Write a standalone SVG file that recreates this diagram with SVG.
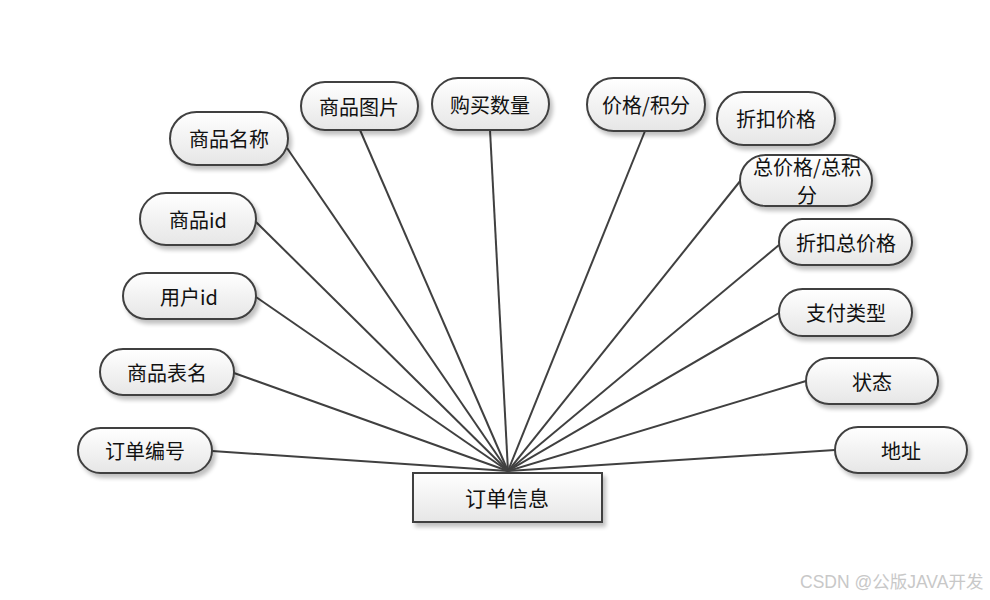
<svg xmlns="http://www.w3.org/2000/svg" width="990" height="600" viewBox="0 0 990 600">
<defs>
<linearGradient id="g" x1="0" y1="0" x2="0" y2="1">
<stop offset="0" stop-color="#ffffff"/>
<stop offset="1" stop-color="#e6e6e6"/>
</linearGradient>
<filter id="sh" x="-10%" y="-10%" width="130%" height="140%">
<feGaussianBlur in="SourceAlpha" stdDeviation="2"/>
<feOffset dx="3" dy="4" result="b"/>
<feComponentTransfer><feFuncA type="linear" slope="0.25"/></feComponentTransfer>
<feMerge><feMergeNode/><feMergeNode in="SourceGraphic"/></feMerge>
</filter>
</defs>
<style>
.n{fill:url(#g);stroke:#404040;stroke-width:2;filter:url(#sh)}
.t{font-family:"Noto Sans CJK SC","Liberation Sans",sans-serif;font-size:20px;fill:#111;text-anchor:middle;dominant-baseline:central}
.c line{stroke:#404040;stroke-width:2}
.wm{font-family:"Liberation Sans","Noto Sans CJK SC",sans-serif;font-size:17.5px;fill:#c8c8c8}
</style>
<rect width="990" height="600" fill="#ffffff"/>
<g class="c" id="connectors">
<line x1="212" y1="451" x2="508" y2="471"/>
<line x1="234" y1="373" x2="508" y2="471"/>
<line x1="256" y1="297" x2="508" y2="471"/>
<line x1="255" y1="221" x2="508" y2="471"/>
<line x1="287" y1="148" x2="508" y2="471"/>
<line x1="360" y1="130" x2="508" y2="471"/>
<line x1="490" y1="130" x2="508" y2="471"/>
<line x1="645" y1="131" x2="508" y2="471"/>
<line x1="741" y1="180" x2="508" y2="471"/>
<line x1="779" y1="245" x2="508" y2="471"/>
<line x1="779" y1="313" x2="508" y2="471"/>
<line x1="806" y1="381" x2="508" y2="471"/>
<line x1="835" y1="450" x2="508" y2="471"/>
</g>
<g id="n1"><rect class="n" x="78" y="428" width="134" height="45" rx="22.5"/><text class="t" x="145" y="450">订单编号</text></g>
<g id="n2"><rect class="n" x="100" y="349" width="134" height="46" rx="23"/><text class="t" x="167" y="372">商品表名</text></g>
<g id="n3"><rect class="n" x="123" y="273" width="133" height="46" rx="23"/><text class="t" x="189" y="296">用户id</text></g>
<g id="n4"><rect class="n" x="140" y="193" width="116" height="52" rx="26"/><text class="t" x="198" y="219">商品id</text></g>
<g id="n5"><rect class="n" x="170" y="112" width="118" height="53" rx="26.5"/><text class="t" x="229" y="138">商品名称</text></g>
<g id="n6"><rect class="n" x="301" y="82" width="117" height="48" rx="24"/><text class="t" x="359" y="106">商品图片</text></g>
<g id="n7"><rect class="n" x="432" y="78" width="117" height="52" rx="26"/><text class="t" x="490" y="104">购买数量</text></g>
<g id="n8"><rect class="n" x="587" y="78" width="118" height="53" rx="26.5"/><text class="t" x="646" y="104">价格/积分</text></g>
<g id="n9"><rect class="n" x="717" y="92" width="118" height="53" rx="26.5"/><text class="t" x="776" y="118">折扣价格</text></g>
<g id="n10"><rect class="n" x="740" y="155" width="132" height="51" rx="25.5"/><text class="t" x="807" y="166">总价格/总积</text><text class="t" x="807" y="194">分</text></g>
<g id="n11"><rect class="n" x="779" y="219" width="133" height="46" rx="23"/><text class="t" x="846" y="242">折扣总价格</text></g>
<g id="n12"><rect class="n" x="779" y="289" width="133" height="47" rx="23.5"/><text class="t" x="846" y="312">支付类型</text></g>
<g id="n13"><rect class="n" x="806" y="358" width="132" height="46" rx="23"/><text class="t" x="872" y="381">状态</text></g>
<g id="n14"><rect class="n" x="835" y="427" width="132" height="46" rx="23"/><text class="t" x="901" y="450">地址</text></g>
<g id="center"><rect class="n" x="413" y="473" width="189" height="49" rx="0"/><text class="t" x="507" y="497" style="font-size:21px">订单信息</text></g>
<text class="wm" x="800" y="588">CSDN @公版JAVA开发</text>
</svg>
